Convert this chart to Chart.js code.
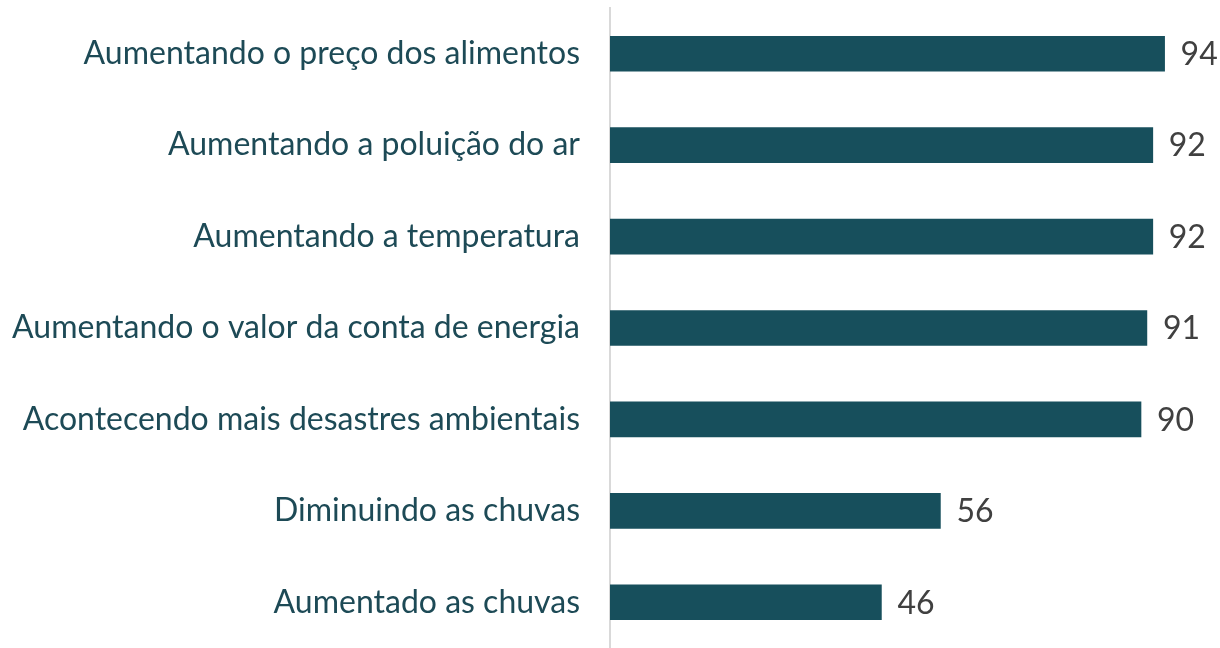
<!DOCTYPE html>
<html>
<head>
<meta charset="utf-8">
<script src="https://cdn.jsdelivr.net/npm/chart.js@4"></script>
<style>
  html, body { margin: 0; padding: 0; background: #fff; }
  #wrap { width: 1220px; height: 648px; }
</style>
</head>
<body>
<div id="wrap"><canvas id="barChart"></canvas></div>
<script>
const categories = [
  "Aumentando o preço dos alimentos",
  "Aumentando a poluição do ar",
  "Aumentando a temperatura",
  "Aumentando o valor da conta de energia",
  "Acontecendo mais desastres ambientais",
  "Diminuindo as chuvas",
  "Aumentado as chuvas",
];
const values = [94, 92, 92, 91, 90, 56, 46];

// draws the number just past the end of each bar
const valueLabels = {
  id: "valueLabels",
  afterDatasetsDraw(chart) {
    const ctx = chart.ctx;
    const meta = chart.getDatasetMeta(0);
    ctx.save();
    ctx.font = "32px Lato";
    ctx.fillStyle = "#404040";
    ctx.textAlign = "left";
    ctx.textBaseline = "middle";
    meta.data.forEach((bar, i) => {
      ctx.fillText(String(values[i]), bar.x + 16, bar.y + 1);
    });
    ctx.restore();
  },
};

const barChartConfig = {
  type: "bar",
  data: {
    labels: categories,
    datasets: [
      {
        data: values,
        backgroundColor: "#174f5c",
        borderWidth: 0,
        barThickness: 35,
      },
    ],
  },
  options: {
    indexAxis: "y",
    responsive: true,
    maintainAspectRatio: false,
    animation: false,
    layout: { padding: { top: 8, right: 20, bottom: 0, left: 0 } },
    plugins: {
      legend: { display: false },
      tooltip: { enabled: false },
    },
    scales: {
      x: {
        display: false,
        min: 0,
        max: 100,
      },
      y: {
        afterFit(scale) {
          scale.width = 610;
          // tick padding otherwise gets added above and below the plot
          scale.paddingTop = 0;
          scale.paddingBottom = -2;
        },
        grid: { display: true, drawOnChartArea: false, drawTicks: false },
        border: { display: true, color: "#d9d9d9", width: 2 },
        ticks: {
          padding: 30,
          color: "#1d4a56",
          font: { family: "Lato", size: 32 },
        },
      },
    },
  },
  plugins: [valueLabels],
};

const myBarChart = new Chart(document.getElementById("barChart"), barChartConfig);
</script>
</body>
</html>
